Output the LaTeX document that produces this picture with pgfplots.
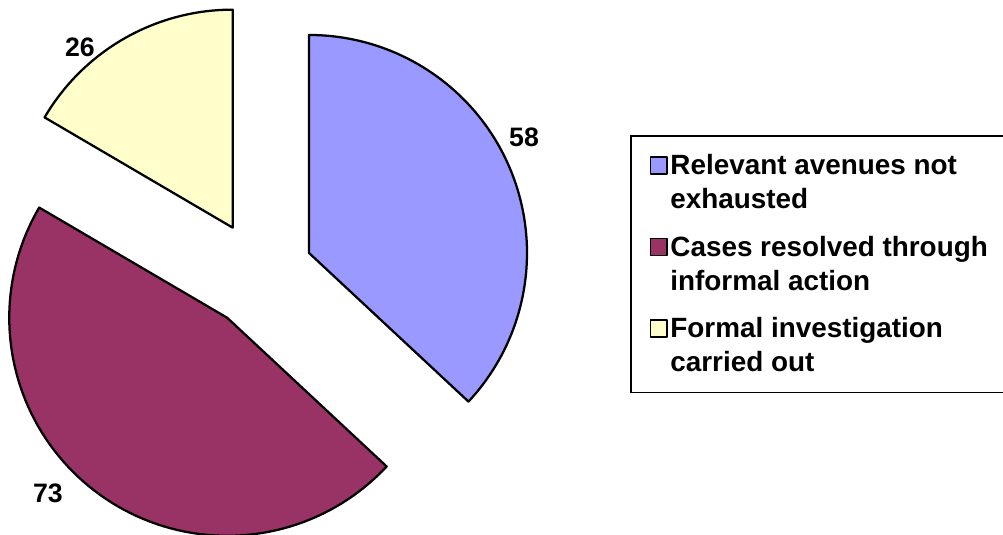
\documentclass[border=0pt]{standalone}
\usepackage{pgfplots}
\pgfplotsset{compat=1.18}
\usepackage{pgfplotstable}
\usepackage{fontspec}
\setmainfont{Liberation Sans}
\definecolor{sliceA}{HTML}{9999FF}
\definecolor{sliceB}{HTML}{993366}
\definecolor{sliceC}{HTML}{FFFFCC}

\pgfplotstableread{
label value
A 58
B 73
C 26
}\piedata
\pgfplotstablegetelem{0}{value}\of\piedata \let\vA\pgfplotsretval
\pgfplotstablegetelem{1}{value}\of\piedata \let\vB\pgfplotsretval
\pgfplotstablegetelem{2}{value}\of\piedata \let\vC\pgfplotsretval
\pgfmathsetmacro\total{\vA+\vB+\vC}
\pgfmathsetmacro\aS{90}
\pgfmathsetmacro\aA{90-360*(\vA/\total)}
\pgfmathsetmacro\aB{\aA-360*(\vB/\total)}
\pgfmathsetmacro\aC{\aB-360*(\vC/\total)}
\pgfmathsetmacro\mA{(\aS+\aA)/2}
\pgfmathsetmacro\mB{(\aA+\aB)/2}
\pgfmathsetmacro\mC{(\aB+\aC)/2}
\def\cx{259.5}\def\cy{260.5}\def\R{218}\def\E{54}
\pgfmathsetmacro\pAx{\cx+\E*cos(\mA)}\pgfmathsetmacro\pAy{\cy+\E*sin(\mA)}
\pgfmathsetmacro\pBx{\cx+\E*cos(\mB)}\pgfmathsetmacro\pBy{\cy+\E*sin(\mB)}
\pgfmathsetmacro\pCx{\cx+\E*cos(\mC)}\pgfmathsetmacro\pCy{\cy+\E*sin(\mC)}

\begin{document}
\begin{tikzpicture}
\begin{scope}
\clip (0,0) rectangle (752.25pt,401.25pt);
\begin{axis}[
  at={(0,0)}, anchor=south west,
  width=752.25pt, height=401.25pt, scale only axis,
  xmin=0, xmax=1003, ymin=0, ymax=535,
  hide axis, clip=false,
  legend image code/.code={\draw[#1, line width=1pt, draw=black] (0pt,6.6pt) rectangle (12.6pt,19.2pt);},
  legend style={at={(axis cs:630,400)}, anchor=north west, draw=black, line width=1.4pt,
    font=\fontsize{20.9}{25.5}\selectfont\bfseries,
    cells={anchor=west, align=left}, row sep=15pt,
    inner xsep=14pt, inner ysep=12pt},
]
\addplot[draw=black, line width=1.7pt, line join=round, fill=sliceA, domain=\aA:\aS, samples=90]
  ({\pAx+\R*cos(x)},{\pAy+\R*sin(x)}) -- (axis cs:\pAx,\pAy) -- cycle;
\addlegendentry{Relevant avenues not\\exhausted}
\addplot[draw=black, line width=1.7pt, line join=round, fill=sliceB, domain=\aB:\aA, samples=90]
  ({\pBx+\R*cos(x)},{\pBy+\R*sin(x)}) -- (axis cs:\pBx,\pBy) -- cycle;
\addlegendentry{\makebox[252pt][l]{Cases resolved through}\\informal action}
\addplot[draw=black, line width=1.7pt, line join=round, fill=sliceC, domain=\aC:\aB, samples=90]
  ({\pCx+\R*cos(x)},{\pCy+\R*sin(x)}) -- (axis cs:\pCx,\pCy) -- cycle;
\addlegendentry{Formal investigation\\carried out}
\node[font=\fontsize{20}{20}\selectfont\bfseries] at (axis cs:524,398) {\vA};
\node[font=\fontsize{20}{20}\selectfont\bfseries] at (axis cs:48,42) {\vB};
\node[font=\fontsize{20}{20}\selectfont\bfseries] at (axis cs:80,488) {\vC};
\end{axis}
\end{scope}
\pgfresetboundingbox
\path (0,0) rectangle (752.25pt,401.25pt);
\end{tikzpicture}
\end{document}
